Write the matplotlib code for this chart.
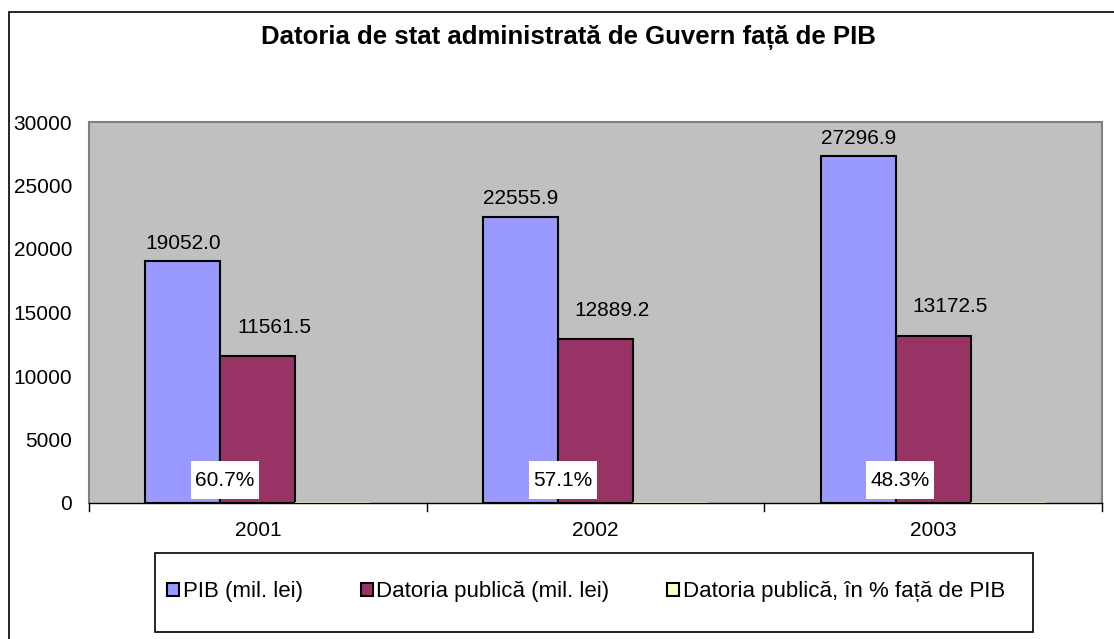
import matplotlib
matplotlib.use("Agg")
import matplotlib.pyplot as plt
from matplotlib.patches import Rectangle, Patch
import numpy as np

plt.rcParams['font.family'] = ['Liberation Sans', 'DejaVu Sans']

years = ["2001", "2002", "2003"]
pib = [19052.0, 22555.9, 27296.9]
datoria = [11561.5, 12889.2, 13172.5]
procent = [60.7, 57.1, 48.3]
series_names = ["PIB (mil. lei)", "Datoria publică (mil. lei)", "Datoria publică, în % față de PIB"]
colors = ["#9999FF", "#993366", "#FFFFCC"]
title = "Datoria de stat administrată de Guvern față de PIB"

W, H = 1114, 639
fig = plt.figure(figsize=(W / 100, H / 100), dpi=100)
fig.patch.set_facecolor("white")

def fx(px):
    return px / W

def fy(py):
    return 1 - py / H

# outer frame (extends past right and bottom edges)
fig.add_artist(Rectangle((fx(9), fy(680)), fx(1140) - fx(9), fy(12) - fy(680),
                         transform=fig.transFigure, fill=False, edgecolor="black", lw=1.2))

ax = fig.add_axes([fx(89), fy(503), fx(1102) - fx(89), fy(122) - fy(503)])
ax.set_facecolor("#C0C0C0")

x = np.arange(len(years))
bw = 1 / 4.5
ax.bar(x - bw, pib, width=bw, color=colors[0], edgecolor="black", lw=1.5)
ax.bar(x, datoria, width=bw, color=colors[1], edgecolor="black", lw=1.5)
ax.bar(x + bw, procent, width=bw, color=colors[2], edgecolor="none", lw=0)

ax.set_xlim(-0.5, len(years) - 0.5)
ax.set_ylim(0, 30000)
ax.set_yticks(np.arange(0, 30001, 5000))
ax.tick_params(axis="y", length=0, labelsize=15, pad=12)
ax.set_xticks(x)
ax.set_xticklabels(years, fontsize=15)
ax.tick_params(axis="x", length=0, pad=13)
for b in np.arange(-0.5, len(years), 1.0):
    ax.plot([b, b], [0, -0.022], transform=ax.get_xaxis_transform(), color="black",
            lw=1, clip_on=False)

for s in ["top", "right", "left"]:
    ax.spines[s].set_color("#808080")
    ax.spines[s].set_linewidth(1.5)
ax.spines["bottom"].set_color("black")
ax.spines["bottom"].set_linewidth(1)

# white label box size in axis units (68 x 38 px)
ax_w_px = 1102 - 89
ax_h_px = 503 - 122
box_w = 68 / ax_w_px * 3
box_h = 38 / ax_h_px * 30000
box_bottom = 4 / ax_h_px * 30000

for i in range(len(years)):
    ax.annotate(f"{pib[i]:.1f}", (x[i] - bw, pib[i]), xytext=(0, 6), textcoords="offset points",
                ha="center", va="bottom", fontsize=15)
    ax.annotate(f"{datoria[i]:.1f}", (x[i], datoria[i]), xytext=(12, 14), textcoords="offset points",
                ha="center", va="bottom", fontsize=15)
    cx = x[i] - 0.097
    ax.add_patch(Rectangle((cx - box_w / 2, box_bottom), box_w, box_h, facecolor="white",
                           edgecolor="none", zorder=3))
    ax.text(cx, box_bottom + box_h / 2, f"{procent[i]:.1f}%", ha="center", va="center",
            fontsize=15, zorder=4)

fig.text(fx(568), fy(37), title, ha="center", va="center", fontsize=18.5, fontweight="bold")

# legend box
fig.add_artist(Rectangle((fx(155), fy(632)), fx(1033) - fx(155), fy(553) - fy(632),
                         transform=fig.transFigure, fill=True, facecolor="white",
                         edgecolor="black", lw=1.2))
handles = [Patch(facecolor=c, edgecolor="black", lw=1.5) for c in colors]
leg = fig.legend(handles, series_names, loc="center", bbox_to_anchor=(fx(586), fy(592)),
                 ncol=3, frameon=False, fontsize=16, handlelength=0.55, handleheight=0.55,
                 handletextpad=0.15, columnspacing=2.6)

fig.savefig("out.png", dpi=100)
